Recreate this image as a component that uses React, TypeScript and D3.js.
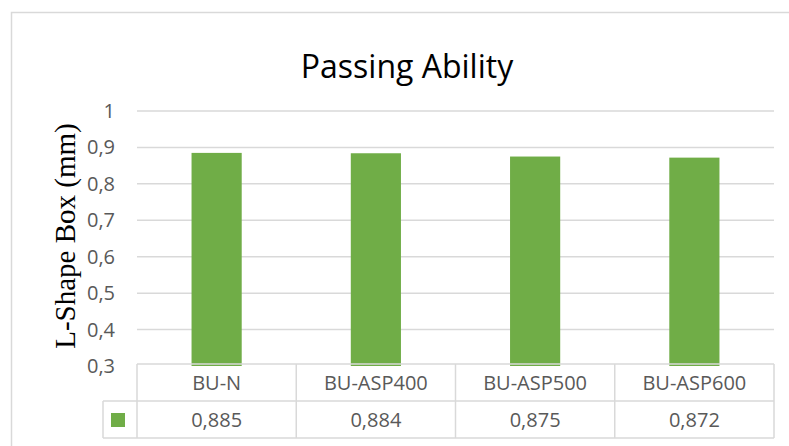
import React from 'react';
import * as d3 from 'd3';

const categories = ['BU-N', 'BU-ASP400', 'BU-ASP500', 'BU-ASP600'];
const values = [0.885, 0.884, 0.875, 0.872];
const yTicks = [0.3, 0.4, 0.5, 0.6, 0.7, 0.8, 0.9, 1];

const W = 789;
const H = 446;
const left = 137;
const right = 774;
const top = 111;
const bottom = 366;
const row = 37;
const green = '#70AD47';
const grid = '#d9d9d9';
const txt = '#595959';

const fmt = (v: number) => String(v).replace('.', ',');

export default function App() {
  const x = d3.scaleBand<string>().domain(categories).range([left, right]).paddingInner(0).paddingOuter(0);
  const y = d3.scaleLinear().domain([0.3, 1]).range([bottom, top]);
  const bw = x.bandwidth() * 0.315;

  return (
    <svg width={W} height={H} style={{ position: 'absolute', left: 0, top: 0 }}>
      <rect x={0} y={0} width={W} height={H} fill="#fff" />
      <path d={`M11.5,${H} V12.5 H${W}`} fill="none" stroke={grid} strokeWidth={1.5} />
      <text x={407} y={78} textAnchor="middle" fontFamily="'Open Sans', sans-serif" fontSize={32} fill="#000">
        Passing Ability
      </text>
      <text
        transform={`translate(75,236) rotate(-90)`}
        textAnchor="middle"
        fontFamily="'Liberation Serif', serif"
        fontSize={29}
        fill="#000"
      >
        L-Shape Box (mm)
      </text>
      {yTicks.map(t => (
        <g key={t}>
          {t > 0.3 && <line x1={left} x2={right} y1={y(t)} y2={y(t)} stroke={grid} strokeWidth={1.5} />}
          <text x={115} y={y(t)} dy="0.35em" textAnchor="end" fontFamily="'Open Sans', sans-serif" fontSize={20} fill={txt}>
            {fmt(t)}
          </text>
        </g>
      ))}
      {categories.map((c, i) => (
        <rect
          key={c}
          x={(x(c) as number) + x.bandwidth() / 2 - bw / 2}
          y={y(values[i])}
          width={bw}
          height={bottom - y(values[i])}
          fill={green}
        />
      ))}
      {/* data table */}
      <g stroke={grid} strokeWidth={1.5} fill="none">
        <line x1={left} x2={right} y1={bottom - 2} y2={bottom - 2} />
        <line x1={103} x2={right} y1={bottom - 2 + row} y2={bottom - 2 + row} />
        <line x1={103} x2={right} y1={bottom - 2 + row * 2} y2={bottom - 2 + row * 2} />
        <line x1={103} x2={103} y1={bottom - 2 + row} y2={bottom - 2 + row * 2} />
        {categories.map(c => (
          <line key={c} x1={x(c)} x2={x(c)} y1={bottom - 2} y2={bottom - 2 + row * 2} />
        ))}
        <line x1={right} x2={right} y1={bottom - 2} y2={bottom - 2 + row * 2} />
      </g>
      <rect x={111} y={413} width={14} height={14} fill={green} />
      {categories.map((c, i) => (
        <g key={c} fontFamily="'Open Sans', sans-serif" fontSize={20} fill={txt} textAnchor="middle">
          <text x={(x(c) as number) + x.bandwidth() / 2} y={bottom - 2 + row / 2} dy="0.35em">{c}</text>
          <text x={(x(c) as number) + x.bandwidth() / 2} y={bottom - 2 + row * 1.5} dy="0.35em">{fmt(values[i])}</text>
        </g>
      ))}
    </svg>
  );
}
